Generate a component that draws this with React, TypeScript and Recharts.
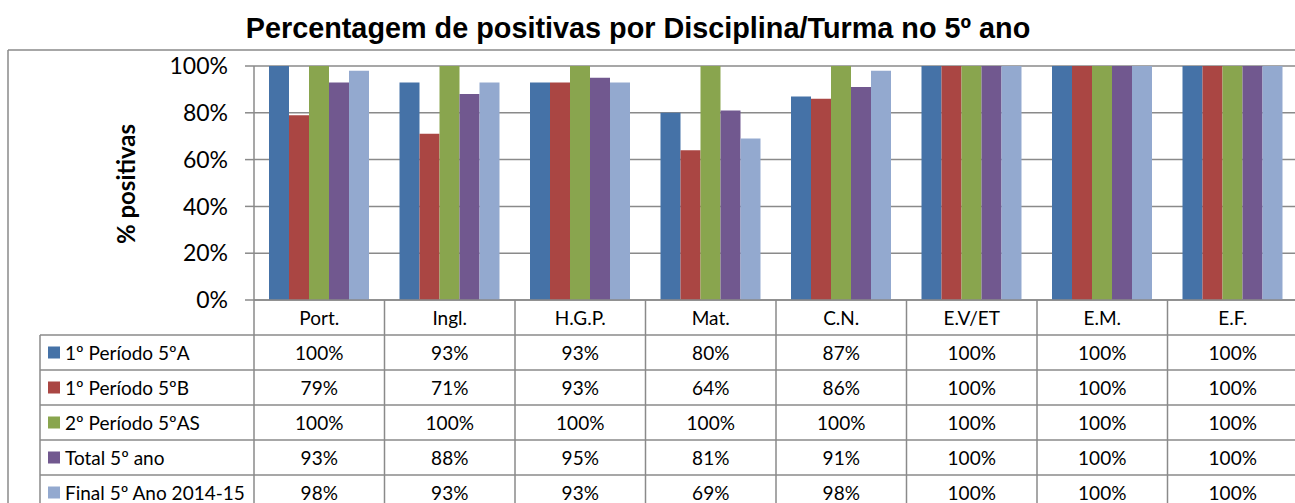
import {Bar, BarChart, CartesianGrid, XAxis, YAxis} from 'recharts';

// values (percent)
const categories = ['Port.', 'Ingl.', 'H.G.P.', 'Mat.', 'C.N.', 'E.V/ET', 'E.M.', 'E.F.'];
const periodo1A = [100, 93, 93, 80, 87, 100, 100, 100];
const periodo1B = [79, 71, 93, 64, 86, 100, 100, 100];
const periodo2AS = [100, 100, 100, 100, 100, 100, 100, 100];
const total5Ano = [93, 88, 95, 81, 91, 100, 100, 100];
const final2014 = [98, 93, 93, 69, 98, 100, 100, 100];
const seriesNames = [
    '1º Período 5ºA',
    '1º Período 5ºB',
    '2º Período 5ºAS',
    'Total 5º ano',
    'Final 5º Ano 2014-15',
];
const yTicks = [0, 20, 40, 60, 80, 100];

const TITLE = 'Percentagem de positivas por Disciplina/Turma no 5º ano';
const Y_LABEL = '% positivas';

const SERIES = [
    {key: 's1', name: seriesNames[0], values: periodo1A, color: '#4572A7'},
    {key: 's2', name: seriesNames[1], values: periodo1B, color: '#AA4643'},
    {key: 's3', name: seriesNames[2], values: periodo2AS, color: '#89A54E'},
    {key: 's4', name: seriesNames[3], values: total5Ano, color: '#71588F'},
    {key: 's5', name: seriesNames[4], values: final2014, color: '#93A9CF'},
];

const data = categories.map((name, i) => {
    const row: Record<string, string | number> = {name};
    SERIES.forEach((s) => {
        row[s.key] = s.values[i];
    });
    return row;
});

const CHART_W = 1300;
const CHART_H = 503;
const PLOT_LEFT = 254;
const PLOT_TOP = 66;
const AXIS_H = 203;
const MARGIN_RIGHT = 2;
const BAND = (CHART_W - PLOT_LEFT - MARGIN_RIGHT) / categories.length;
const ROW_H = 35;
const LEGEND_LEFT = 40;
const LINE = '#8a8a8a';
const BODY_FONT = 'Lato, "Open Sans", sans-serif';
const TABLE_FONT_SIZE = 19;

function TableTick(props: any) {
    const {x, y, payload} = props;
    const idx = payload.index ?? props.index ?? 0;
    const left = x - BAND / 2;
    const right = x + BAND / 2;
    return (
        <g>
            {idx === 0 && (
                <line x1={left} x2={left} y1={y} y2={CHART_H} stroke={LINE} strokeWidth={1.5}/>
            )}
            <line x1={right} x2={right} y1={y} y2={CHART_H} stroke={LINE} strokeWidth={1.5}/>
            <text
                x={x}
                y={y + ROW_H / 2}
                textAnchor="middle"
                dominantBaseline="central"
                fontFamily={BODY_FONT}
                fontSize={TABLE_FONT_SIZE}
                fill="#000"
            >
                {payload.value}
            </text>
            {SERIES.map((s, i) => (
                <g key={s.key}>
                    <line
                        x1={left}
                        x2={right}
                        y1={y + ROW_H * (i + 1)}
                        y2={y + ROW_H * (i + 1)}
                        stroke={LINE}
                        strokeWidth={1.5}
                    />
                    <text
                        x={x}
                        y={y + ROW_H * (i + 1.5)}
                        textAnchor="middle"
                        dominantBaseline="central"
                        fontFamily={BODY_FONT}
                        fontSize={TABLE_FONT_SIZE}
                        fill="#000"
                    >
                        {`${s.values[idx]}%`}
                    </text>
                </g>
            ))}
        </g>
    );
}

function Overlay() {
    const axisY = CHART_H - AXIS_H;
    return (
        <svg
            width={1295}
            height={503}
            style={{position: 'absolute', left: 0, top: 0, pointerEvents: 'none'}}
        >
            <line x1={8} x2={1295} y1={50} y2={50} stroke={LINE} strokeWidth={1.5}/>
            <line x1={8} x2={8} y1={50} y2={503} stroke={LINE} strokeWidth={1.5}/>
            <text
                x={638}
                y={38}
                textAnchor="middle"
                fontFamily='Arial, "Liberation Sans", sans-serif'
                fontWeight="bold"
                fontSize={28.8}
                fill="#000"
            >
                {TITLE}
            </text>
            <text
                x={125}
                y={184}
                textAnchor="middle"
                dominantBaseline="central"
                transform="rotate(-90 125 184)"
                fontFamily={BODY_FONT}
                fontWeight="bold"
                fontSize={24}
                fill="#000"
            >
                {Y_LABEL}
            </text>
            <line
                x1={LEGEND_LEFT}
                x2={LEGEND_LEFT}
                y1={axisY + ROW_H}
                y2={503}
                stroke={LINE}
                strokeWidth={1.5}
            />
            {SERIES.map((s, i) => {
                const top = axisY + ROW_H * (i + 1);
                return (
                    <g key={s.key}>
                        <line
                            x1={LEGEND_LEFT}
                            x2={PLOT_LEFT}
                            y1={top}
                            y2={top}
                            stroke={LINE}
                            strokeWidth={1.5}
                        />
                        <rect x={48} y={top + ROW_H / 2 - 6} width={12} height={12} fill={s.color}/>
                        <text
                            x={65}
                            y={top + ROW_H / 2}
                            dominantBaseline="central"
                            fontFamily={BODY_FONT}
                            fontSize={TABLE_FONT_SIZE}
                            fill="#000"
                        >
                            {s.name}
                        </text>
                    </g>
                );
            })}
        </svg>
    );
}

export default function App() {
    return (
        <div
            style={{
                position: 'fixed',
                left: 0,
                top: 0,
                width: 1295,
                height: 503,
                overflow: 'hidden',
                background: '#fff',
            }}
        >
            <BarChart
                width={CHART_W}
                height={CHART_H}
                data={data}
                margin={{top: PLOT_TOP, right: MARGIN_RIGHT, bottom: 0, left: 0}}
                barCategoryGap={15}
                barGap={0}
            >
                <CartesianGrid vertical={false} stroke={LINE} strokeWidth={1.5}/>
                <XAxis
                    dataKey="name"
                    height={AXIS_H}
                    interval={0}
                    tickLine={false}
                    tickSize={0}
                    tickMargin={0}
                    axisLine={{stroke: LINE, strokeWidth: 1.5}}
                    tick={(p: any) => <TableTick {...p}/>}
                />
                <YAxis
                    width={PLOT_LEFT}
                    domain={[0, 100]}
                    ticks={yTicks}
                    tickFormatter={(v: number) => `${v}%`}
                    tickSize={9}
                    tickMargin={17}
                    tickLine={{stroke: LINE, strokeWidth: 1.5}}
                    axisLine={{stroke: LINE, strokeWidth: 1.5}}
                    tick={{fill: '#000', fontSize: 23, fontFamily: BODY_FONT}}
                />
                {SERIES.map((s) => (
                    <Bar
                        key={s.key}
                        dataKey={s.key}
                        name={s.name}
                        fill={s.color}
                        isAnimationActive={false}
                    />
                ))}
            </BarChart>
            <Overlay/>
        </div>
    );
}
